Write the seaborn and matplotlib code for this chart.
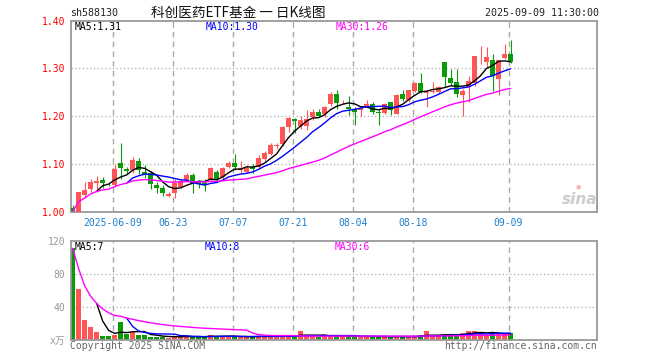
import numpy as np
import pandas as pd
import matplotlib
matplotlib.use("Agg")
import matplotlib.pyplot as plt
import seaborn as sns

# ---------------- data ----------------
opens = [1.010, 1.001, 1.037, 1.049, 1.062, 1.067, 1.060, 1.057, 1.103, 1.090,
         1.089, 1.106, 1.085, 1.083, 1.057, 1.051, 1.033, 1.040, 1.053, 1.067,
         1.078, 1.064, 1.061, 1.067, 1.085, 1.073, 1.094, 1.103, 1.089, 1.085,
         1.095, 1.095, 1.111, 1.122, 1.139, 1.142, 1.178, 1.194, 1.180, 1.180,
         1.199, 1.210, 1.204, 1.226, 1.247, 1.229, 1.219, 1.216, 1.213, 1.222,
         1.226, 1.210, 1.207, 1.229, 1.206, 1.247, 1.234, 1.253, 1.270, 1.248,
         1.251, 1.251, 1.313, 1.281, 1.272, 1.244, 1.262, 1.270, 1.323, 1.314,
         1.317, 1.279, 1.321, 1.331]
highs = [1.015, 1.043, 1.064, 1.069, 1.076, 1.074, 1.063, 1.100, 1.144, 1.094,
         1.116, 1.114, 1.098, 1.087, 1.063, 1.057, 1.042, 1.070, 1.070, 1.082,
         1.081, 1.067, 1.070, 1.095, 1.088, 1.095, 1.107, 1.121, 1.107, 1.098,
         1.101, 1.119, 1.128, 1.144, 1.145, 1.180, 1.198, 1.197, 1.201, 1.213,
         1.215, 1.216, 1.222, 1.251, 1.256, 1.235, 1.242, 1.219, 1.221, 1.235,
         1.229, 1.215, 1.228, 1.231, 1.246, 1.256, 1.256, 1.271, 1.290, 1.255,
         1.271, 1.263, 1.314, 1.298, 1.298, 1.258, 1.284, 1.327, 1.347, 1.344,
         1.330, 1.318, 1.352, 1.360]
lows = [1.000, 0.999, 1.030, 1.041, 1.043, 1.050, 1.055, 1.053, 1.070, 1.080,
        1.081, 1.079, 1.071, 1.049, 1.040, 1.033, 1.031, 1.030, 1.050, 1.066,
        1.041, 1.050, 1.045, 1.064, 1.064, 1.069, 1.092, 1.088, 1.083, 1.081,
        1.083, 1.092, 1.106, 1.119, 1.132, 1.138, 1.167, 1.166, 1.173, 1.171,
        1.192, 1.198, 1.199, 1.222, 1.215, 1.225, 1.203, 1.182, 1.201, 1.219,
        1.205, 1.183, 1.204, 1.203, 1.204, 1.233, 1.231, 1.250, 1.249, 1.220,
        1.249, 1.249, 1.262, 1.265, 1.241, 1.201, 1.231, 1.264, 1.310, 1.303,
        1.253, 1.245, 1.319, 1.312]
closes = [1.002, 1.042, 1.046, 1.063, 1.065, 1.062, 1.058, 1.090, 1.093, 1.087,
          1.110, 1.088, 1.080, 1.058, 1.051, 1.040, 1.038, 1.061, 1.065, 1.078,
          1.061, 1.059, 1.057, 1.092, 1.069, 1.092, 1.103, 1.094, 1.092, 1.093,
          1.090, 1.114, 1.124, 1.140, 1.141, 1.178, 1.197, 1.190, 1.193, 1.194,
          1.209, 1.201, 1.220, 1.247, 1.228, 1.230, 1.216, 1.210, 1.217, 1.225,
          1.210, 1.207, 1.226, 1.213, 1.244, 1.236, 1.255, 1.270, 1.251, 1.251,
          1.253, 1.262, 1.283, 1.270, 1.247, 1.253, 1.274, 1.326, 1.324, 1.323,
          1.284, 1.317, 1.331, 1.314]
volumes = [110.7, 61.2, 23.5, 14.6, 8.9, 4.0, 4.0, 6.0, 21.1, 6.9,
           8.9, 4.9, 6.0, 3.6, 2.8, 3.5, 2.4, 4.5, 3.5, 4.5,
           2.8, 2.8, 3.5, 5.7, 4.5, 3.5, 3.5, 3.5, 3.5, 3.5,
           2.8, 4.5, 4.0, 4.0, 4.0, 5.0, 3.5, 3.5, 10.1, 4.5,
           4.5, 3.5, 4.5, 5.0, 4.0, 4.0, 4.0, 3.5, 3.5, 3.5,
           3.5, 3.5, 3.5, 3.5, 4.0, 3.5, 3.5, 3.5, 5.0, 10.0,
           4.0, 4.0, 5.5, 5.5, 7.0, 7.3, 10.0, 10.0, 8.5, 4.5,
           9.5, 7.0, 6.5, 8.0]

date_tick_labels = ["2025-06-09", "06-23", "07-07", "07-21", "08-04", "08-18", "09-09"]
date_tick_index = [7, 17, 27, 37, 47, 57, 73]
price_ticks = [1.00, 1.10, 1.20, 1.30, 1.40]
price_tick_labels = ["1.00", "1.10", "1.20", "1.30", "1.40"]
vol_ticks = [0, 40, 80, 120]
vol_tick_labels = ["x万", "40", "80", "120"]

code_text = "sh588130"
title_text = "科创医药ETF基金 一 日K线图"
time_text = "2025-09-09 11:30:00"
price_ma_labels = ["MA5:1.31", "MA10:1.30", "MA30:1.26"]
vol_ma_labels = ["MA5:7", "MA10:8", "MA30:6"]

# ---------------- style ----------------
sns.set_theme(style="white")
plt.rcParams['font.family'] = ['DejaVu Sans Mono', 'Noto Sans CJK SC']

RED = '#ff5555'
GREEN = '#0a9a0a'
GRID = '#aaaaaa'
SPINE = '#999999'
MA_COLORS = ['#000000', '#0000ff', '#ff00ff']

df = pd.DataFrame({"i": np.arange(len(closes)), "open": opens, "high": highs,
                   "low": lows, "close": closes, "vol": volumes})
df["up"] = df["close"] >= df["open"]
df["color"] = np.where(df["up"], RED, GREEN)
df["ma5"] = df["close"].rolling(5).mean()
df["ma10"] = df["close"].rolling(10).mean()
df["ma30"] = df["close"].rolling(30, min_periods=1).mean()
df["vma5"] = df["vol"].rolling(5).mean()
df["vma10"] = df["vol"].rolling(10).mean()
df["vma30"] = df["vol"].rolling(30, min_periods=1).mean()

W, H = 660, 360
fig = plt.figure(figsize=(6.6, 3.6), dpi=100)
fig.patch.set_facecolor('white')

def fx(px):
    return px / W

def fy(py):
    return 1 - py / H

L, R = 70.7, 597.0
ax = fig.add_axes([fx(L), fy(212.3), fx(R) - fx(L), fy(20.5) - fy(212.3)])
axv = fig.add_axes([fx(L), fy(339.5), fx(R) - fx(L), fy(240.7) - fy(339.5)])

XMIN, XMAX = -0.33, 87.42
GOFF = -0.33

for a in (ax, axv):
    a.set_facecolor('white')
    a.set_xlim(XMIN, XMAX)
    for s in a.spines.values():
        s.set_color(SPINE)
        s.set_linewidth(1.3)
    for t in date_tick_index:
        a.axvline(t + GOFF, color=GRID, lw=1.0, ls=(0, (4, 3)), zorder=0)

# grids
for v in price_ticks[1:-1]:
    ax.axhline(v, color=GRID, lw=0.9, ls=(0, (1, 2)), zorder=0)
for v in vol_ticks[1:-1]:
    axv.axhline(v, color=GRID, lw=0.9, ls=(0, (1, 2)), zorder=0)

# candles
ax.vlines(df["i"], df["low"], df["high"], colors=df["color"], lw=0.8, zorder=2)
body_low = np.minimum(df["open"], df["close"])
body_h = np.maximum(np.abs(df["close"] - df["open"]), 0.0018)
ax.bar(df["i"], body_h, bottom=body_low, width=0.8, color=df["color"], linewidth=0, zorder=3)

for col, c in zip(["ma5", "ma10", "ma30"], MA_COLORS):
    sns.lineplot(data=df, x="i", y=col, ax=ax, color=c, lw=1.0, legend=False, zorder=4)

ax.set_ylim(price_ticks[0], price_ticks[-1])
ax.set_yticks(price_ticks)
ax.set_yticklabels(price_tick_labels)
ax.set_xticks([t + GOFF for t in date_tick_index])
ax.set_xticklabels(date_tick_labels)
ax.tick_params(axis='y', length=0, pad=4, labelsize=7, labelcolor='#ff0000')
ax.tick_params(axis='x', length=0, pad=4, labelsize=7, labelcolor='#1a7fd0')
ax.set_xlabel("")
ax.set_ylabel("")

# volume
axv.bar(df["i"], df["vol"], width=0.8, color=df["color"], linewidth=0, zorder=2)
for col, c in zip(["vma5", "vma10", "vma30"], MA_COLORS):
    sns.lineplot(data=df, x="i", y=col, ax=axv, color=c, lw=1.0, legend=False, zorder=4)
axv.set_ylim(vol_ticks[0], vol_ticks[-1])
axv.set_yticks(vol_ticks)
axv.set_yticklabels(vol_tick_labels)
axv.set_xticks([])
axv.tick_params(axis='y', length=0, pad=4, labelsize=7, labelcolor='#999999')
axv.set_xlabel("")
axv.set_ylabel("")

# header texts
fig.text(fx(70), fy(13), code_text, ha='left', va='center', fontsize=7.2, color='#222222')
fig.text(fx(238), fy(13), title_text, ha='center', va='center', fontsize=9.8,
         color='#111111', family=['Noto Sans CJK SC', 'DejaVu Sans'])
fig.text(fx(599), fy(13), time_text, ha='right', va='center', fontsize=7.2, color='#222222')

# MA legends
for lbl, c, x in zip(price_ma_labels, MA_COLORS, [74.5, 206, 336]):
    fig.text(fx(x), fy(27), lbl, ha='left', va='center', fontsize=7, color=c)
for lbl, c, x in zip(vol_ma_labels, MA_COLORS, [75, 205, 335]):
    fig.text(fx(x), fy(246.5), lbl, ha='left', va='center', fontsize=7, color=c)

# footer
fig.text(fx(70), fy(346), "Copyright 2025 SINA.COM", ha='left', va='center', fontsize=7, color='#666666')
fig.text(fx(597), fy(346), "http://finance.sina.com.cn", ha='right', va='center', fontsize=7, color='#666666')

# watermark
fig.text(fx(580), fy(200), "sina", ha='center', va='center', fontsize=11, fontweight='bold',
         style='italic', color='#cccccc', family='DejaVu Sans')
fig.text(fx(578), fy(187), "●", ha='center', va='center', fontsize=4.5, color='#f3b8b8', family='DejaVu Sans')

fig.savefig("out.png", dpi=100, facecolor='white')
